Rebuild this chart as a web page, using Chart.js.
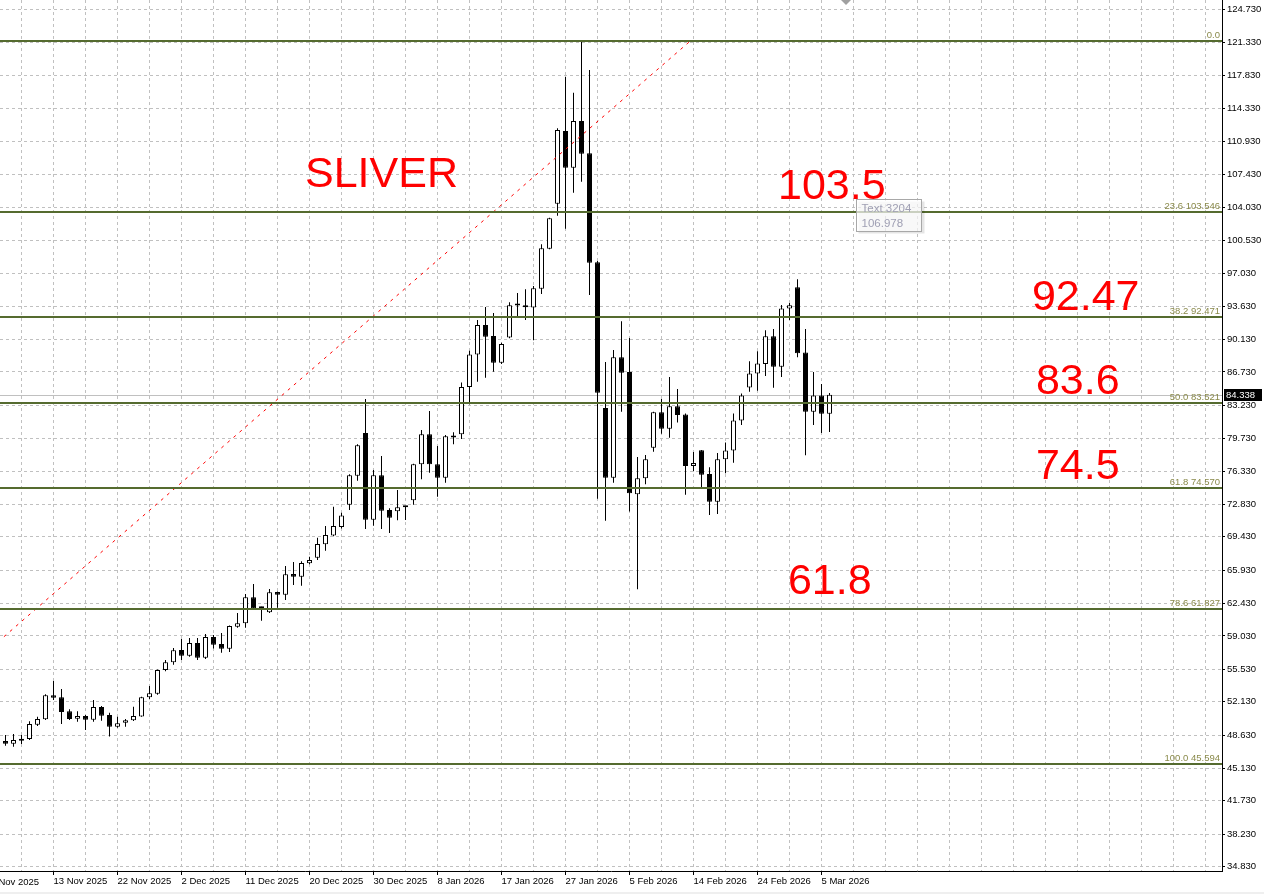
<!DOCTYPE html>
<html lang="en">
<head>
<meta charset="UTF-8">
<title>SLIVER D1</title>
<script src="https://cdn.jsdelivr.net/npm/chart.js"></script>
<style>
  html, body { margin: 0; padding: 0; background: #fff; }
  #wrap { width: 1264px; height: 894px; }
</style>
</head>
<body>
<div id="wrap"><canvas id="chart" width="1264" height="894"></canvas></div>
<script>
// daily candles, oldest first (bar index 0 = left edge)
const opens  = [48.01, 47.72, 48.22, 48.22, 49.72, 50.28, 52.80, 52.59, 51.12, 50.35,
                50.63, 50.24, 51.57, 50.73, 49.51, 49.93, 50.18, 50.59, 52.59, 52.97,
                55.46, 56.27, 57.56, 56.96, 58.29, 56.75, 58.92, 58.18, 57.69, 59.99,
                60.35, 63.10, 61.93, 61.51, 63.64, 63.36, 65.53, 65.25, 66.65, 67.24,
                68.64, 69.58, 70.47, 72.80, 75.84, 80.32, 71.22, 75.88, 72.24, 72.10,
                72.52, 73.26, 77.04, 80.19, 77.04, 75.63, 79.95, 80.19, 85.16, 88.56,
                91.64, 90.49, 87.69, 90.34, 93.70, 93.73, 93.48, 95.46, 99.66, 104.38,
                112.00, 108.16, 113.05, 109.66, 98.23, 82.95, 75.63, 88.26, 86.72, 73.89,
                75.57, 78.78, 82.50, 80.78, 83.13, 82.26, 76.87, 78.50, 76.01, 73.11,
                77.56, 78.49, 81.64, 85.10, 86.56, 87.57, 90.48, 87.26, 93.38, 95.62,
                88.77, 82.54, 84.26, 82.33];
const highs  = [48.64, 48.74, 48.64, 50.07, 50.56, 52.91, 54.30, 53.46, 51.33, 51.12,
                50.73, 52.31, 51.68, 50.98, 50.56, 50.31, 51.61, 52.65, 53.78, 55.50,
                56.51, 57.77, 58.71, 58.81, 58.81, 59.23, 59.13, 59.34, 60.12, 61.43,
                63.43, 64.48, 62.10, 63.95, 63.70, 66.37, 66.79, 66.86, 67.34, 69.33,
                70.56, 72.59, 71.95, 75.99, 79.14, 83.89, 76.44, 77.91, 72.42, 74.34,
                72.62, 77.10, 80.64, 82.63, 78.96, 80.11, 80.39, 85.62, 88.94, 92.17,
                93.53, 92.90, 89.78, 94.03, 95.00, 95.41, 95.75, 100.12, 102.90, 112.29,
                117.71, 116.03, 121.45, 118.41, 98.37, 87.77, 89.03, 92.04, 90.28, 77.80,
                78.01, 82.55, 83.89, 86.20, 84.94, 82.36, 78.32, 78.55, 76.74, 78.22,
                79.33, 82.37, 84.47, 87.85, 88.90, 91.11, 91.23, 93.76, 93.97, 96.46,
                91.23, 86.72, 85.46, 84.52];
const lows   = [47.51, 47.41, 47.69, 48.11, 49.59, 50.20, 52.31, 49.79, 50.21, 50.04,
                49.16, 50.04, 50.14, 48.47, 49.40, 49.51, 50.10, 50.55, 52.38, 52.87,
                55.32, 56.02, 56.51, 56.85, 56.51, 56.61, 57.71, 57.27, 57.35, 59.89,
                59.89, 61.85, 60.63, 61.45, 61.99, 62.80, 64.37, 64.30, 66.54, 67.00,
                67.97, 69.50, 70.30, 72.24, 75.32, 70.26, 70.58, 70.26, 69.84, 71.16,
                71.19, 72.80, 75.47, 76.16, 73.64, 75.11, 79.14, 79.69, 83.33, 85.69,
                86.11, 86.74, 87.56, 90.25, 92.44, 92.17, 90.06, 94.91, 99.60, 103.12,
                101.75, 105.54, 106.69, 94.81, 73.43, 71.12, 75.11, 82.56, 72.08, 63.92,
                74.94, 78.36, 80.25, 79.83, 81.42, 73.85, 76.32, 74.52, 71.71, 71.82,
                76.09, 77.21, 81.17, 84.64, 84.75, 86.31, 85.06, 86.21, 92.17, 88.28,
                77.98, 81.17, 80.33, 80.44];
const closes = [47.72, 48.11, 48.04, 49.79, 50.31, 52.80, 52.55, 51.05, 50.31, 50.63,
                50.24, 51.57, 50.66, 49.51, 49.86, 50.18, 50.63, 52.59, 53.01, 55.46,
                56.27, 57.53, 56.96, 58.29, 56.75, 58.92, 58.11, 57.69, 60.07, 60.35,
                63.10, 61.89, 61.96, 63.61, 63.36, 65.50, 65.25, 66.68, 67.00, 68.67,
                69.61, 70.56, 71.67, 75.88, 79.03, 71.22, 75.88, 72.17, 71.43, 72.52,
                72.58, 77.04, 80.19, 77.04, 75.63, 79.98, 79.85, 85.16, 88.56, 91.64,
                90.41, 87.69, 89.65, 93.73, 93.76, 93.51, 95.51, 99.70, 102.85, 112.11,
                108.16, 113.05, 109.62, 98.19, 84.55, 75.63, 88.26, 86.64, 73.99, 75.57,
                77.56, 82.50, 80.78, 83.13, 82.21, 76.87, 77.17, 75.94, 73.11, 77.56,
                78.49, 81.64, 84.26, 86.56, 87.61, 90.48, 87.26, 93.38, 93.73, 88.70,
                82.54, 84.26, 82.33, 84.338];
const lastPrice = 84.338;

// time axis labels (bar index where each label sits)
const dateBars   = [-2, 6, 14, 22, 30, 38, 46, 54, 62, 70, 78, 86, 94, 102];
const dateLabels = ['4 Nov 2025', '13 Nov 2025', '22 Nov 2025', '2 Dec 2025', '11 Dec 2025',
                    '20 Dec 2025', '30 Dec 2025', '8 Jan 2026', '17 Jan 2026', '27 Jan 2026',
                    '5 Feb 2026', '14 Feb 2026', '24 Feb 2026', '5 Mar 2026'];

// price axis labels
const yTickLabels = ['124.730', '121.330', '117.830', '114.330', '110.930', '107.430', '104.030',
                     '100.530', '97.030', '93.630', '90.130', '86.730', '83.230', '79.730',
                     '76.330', '72.830', '69.430', '65.930', '62.430', '59.030', '55.530',
                     '52.130', '48.630', '45.130', '41.730', '38.230', '34.830'];

// fibonacci retracement
const fibLevels = ['0.0', '23.6', '38.2', '50.0', '61.8', '78.6', '100.0'];
const fibPrices = [121.448, 103.546, 92.471, 83.521, 74.570, 61.827, 45.594];

// red dotted trend line
const trendBars   = [-0.2, 85.6];
const trendPrices = [58.95, 121.45];

// red text objects
const noteTexts  = ['SLIVER', '103.5', '92.47', '83.6', '74.5', '61.8'];
const noteBars   = [37.44, 96.56, 128.3, 128.8, 128.8, 97.8];
const notePrices = [106.13, 104.87, 93.23, 84.41, 75.50, 63.43];

// small object tooltip left on the chart
const tipLines = ['Text 3204', '106.978'];
const tipBar = 106.3, tipPrice = 104.9;

Chart.defaults.font.family = "'Liberation Sans', Arial, sans-serif";

const gridBars = [];
for (let b = 2; b <= 150; b += 4) gridBars.push(b);

const overlay = {
    id: 'overlay',
    beforeDatasetsDraw(chart) {
        const {ctx, chartArea: a, scales: {y}} = chart;
        const py = Math.round(y.getPixelForValue(lastPrice)) + 0.5;
        ctx.save();
        ctx.strokeStyle = '#c0c0c0';
        ctx.lineWidth = 1;
        ctx.beginPath();
        ctx.moveTo(a.left, py);
        ctx.lineTo(a.right, py);
        ctx.stroke();
        ctx.restore();
    },
    afterDatasetsDraw(chart) {
        const {ctx, chartArea: a, scales: {x, y}} = chart;
        ctx.save();
        // fib levels
        fibPrices.forEach((p, i) => {
            const py = Math.round(y.getPixelForValue(p));
            ctx.strokeStyle = '#556b2f';
            ctx.lineWidth = 2;
            ctx.beginPath();
            ctx.moveTo(a.left, py);
            ctx.lineTo(a.right, py);
            ctx.stroke();
            ctx.fillStyle = '#8a8a4a';
            ctx.font = "9.5px 'Liberation Sans'";
            ctx.textAlign = 'right';
            ctx.textBaseline = 'alphabetic';
            ctx.fillText(fibLevels[i] + (i ? ' ' + p.toFixed(3) : ''), a.right - 2, py - 3);
        });
        // red notes
        ctx.fillStyle = '#ff0000';
        ctx.font = "43px 'Liberation Sans'";
        ctx.textAlign = 'left';
        noteTexts.forEach((t, i) => {
            ctx.fillText(t, x.getPixelForValue(noteBars[i]), y.getPixelForValue(notePrices[i]));
        });
        // tooltip box
        const bx = Math.round(x.getPixelForValue(tipBar)) + 0.5;
        const by = Math.round(y.getPixelForValue(tipPrice)) + 0.5;
        ctx.fillStyle = 'rgba(0,0,0,0.10)';
        ctx.fillRect(bx + 2, by + 2, 66, 32);
        ctx.fillStyle = 'rgba(255,255,255,0.7)';
        ctx.fillRect(bx, by, 65, 32);
        ctx.strokeStyle = '#a8a8a8';
        ctx.lineWidth = 1;
        ctx.strokeRect(bx, by, 65, 32);
        ctx.fillStyle = '#a0a0b4';
        ctx.font = "11.5px 'Liberation Sans'";
        ctx.textBaseline = 'middle';
        ctx.fillText(tipLines[0], bx + 5, by + 9);
        ctx.fillText(tipLines[1], bx + 5, by + 24);
        ctx.restore();
    },
    afterDraw(chart) {
        const {ctx, chartArea: a, scales: {x, y}} = chart;
        ctx.save();
        // current price tag
        const py = Math.round(y.getPixelForValue(lastPrice));
        ctx.fillStyle = '#000';
        ctx.fillRect(a.right + 2, py - 6, 38, 12);
        ctx.fillStyle = '#fff';
        ctx.font = "9.5px 'Liberation Sans'";
        ctx.textAlign = 'left';
        ctx.textBaseline = 'middle';
        ctx.fillText(lastPrice.toFixed(3), a.right + 4, py);
        // date label that starts left of the window
        ctx.fillStyle = '#000';
        ctx.textBaseline = 'middle';
        ctx.fillText(dateLabels[0], x.getPixelForValue(dateBars[0]) + 1, a.bottom + 11);
        // chart shift marker
        const sx = Math.round(x.getPixelForValue(105));
        ctx.fillStyle = '#a0a0a0';
        ctx.beginPath();
        ctx.moveTo(sx - 5, 0);
        ctx.lineTo(sx + 5, 0);
        ctx.lineTo(sx, 5);
        ctx.closePath();
        ctx.fill();
        // status strip
        ctx.fillStyle = '#efefef';
        ctx.fillRect(0, 892, chart.width, 2);
        ctx.restore();
    }
};

new Chart(document.getElementById('chart'), {
    type: 'bar',
    data: {
        datasets: [{
            label: 'body',
            order: 1,
            data: opens.map((o, i) => ({x: i, y: [o, closes[i]]})),
            backgroundColor: opens.map((o, i) => closes[i] >= o ? '#ffffff' : '#000000'),
            borderColor: '#000000',
            borderWidth: 1,
            borderSkipped: false,
            barThickness: 5,
            minBarLength: 2,
            inflateAmount: 0,
            grouped: false
        }, {
            label: 'wick',
            order: 2,
            data: lows.map((l, i) => ({x: i, y: [l, highs[i]]})),
            backgroundColor: '#000000',
            borderWidth: 0,
            barThickness: 1,
            inflateAmount: 0,
            grouped: false
        }, {
            type: 'line',
            label: 'trend',
            order: 0,
            data: trendBars.map((b, i) => ({x: b, y: trendPrices[i]})),
            borderColor: '#ff0000',
            borderWidth: 1,
            borderDash: [3, 5],
            pointRadius: 0,
            fill: false
        }]
    },
    options: {
        responsive: false,
        animation: false,
        layout: { padding: 0 },
        plugins: { legend: { display: false }, tooltip: { enabled: false } },
        scales: {
            x: {
                type: 'linear',
                min: -5.5 / 8,
                max: -5.5 / 8 + 1222 / 8,
                offset: false,
                grid: {
                    color: '#c0c0c0',
                    offset: false,
                    tickLength: 4,
                    tickColor: ctx => dateBars.includes(ctx.tick && ctx.tick.value) ? '#000' : 'rgba(0,0,0,0)'
                },
                border: { color: '#000', width: 1, dash: [3, 3] },
                ticks: {
                    autoSkip: false,
                    maxRotation: 0,
                    minRotation: 0,
                    align: 'start',
                    padding: 1,
                    color: '#000',
                    font: { size: 9.5 },
                    callback: v => {
                        const k = dateBars.indexOf(v);
                        return k >= 0 ? dateLabels[k] : '';
                    }
                },
                afterBuildTicks: s => { s.ticks = gridBars.map(v => ({value: v})); },
                afterFit: s => { s.height = 23; s.paddingLeft = 0; s.paddingRight = 0; }
            },
            y: {
                position: 'right',
                min: 34.37,
                max: 125.75,
                beginAtZero: false,
                grid: { color: '#c0c0c0', tickLength: 3, tickColor: '#000' },
                border: { color: '#000', width: 1, dash: [3, 3] },
                ticks: {
                    padding: 2,
                    color: '#000',
                    font: { size: 9.5 },
                    callback: (v, i) => yTickLabels[i]
                },
                afterBuildTicks: s => { s.ticks = yTickLabels.map(t => ({value: parseFloat(t)})); },
                afterFit: s => { s.width = 42; s.paddingTop = 0; s.paddingBottom = 0; }
            }
        }
    },
    plugins: [overlay]
});
</script>
</body>
</html>
